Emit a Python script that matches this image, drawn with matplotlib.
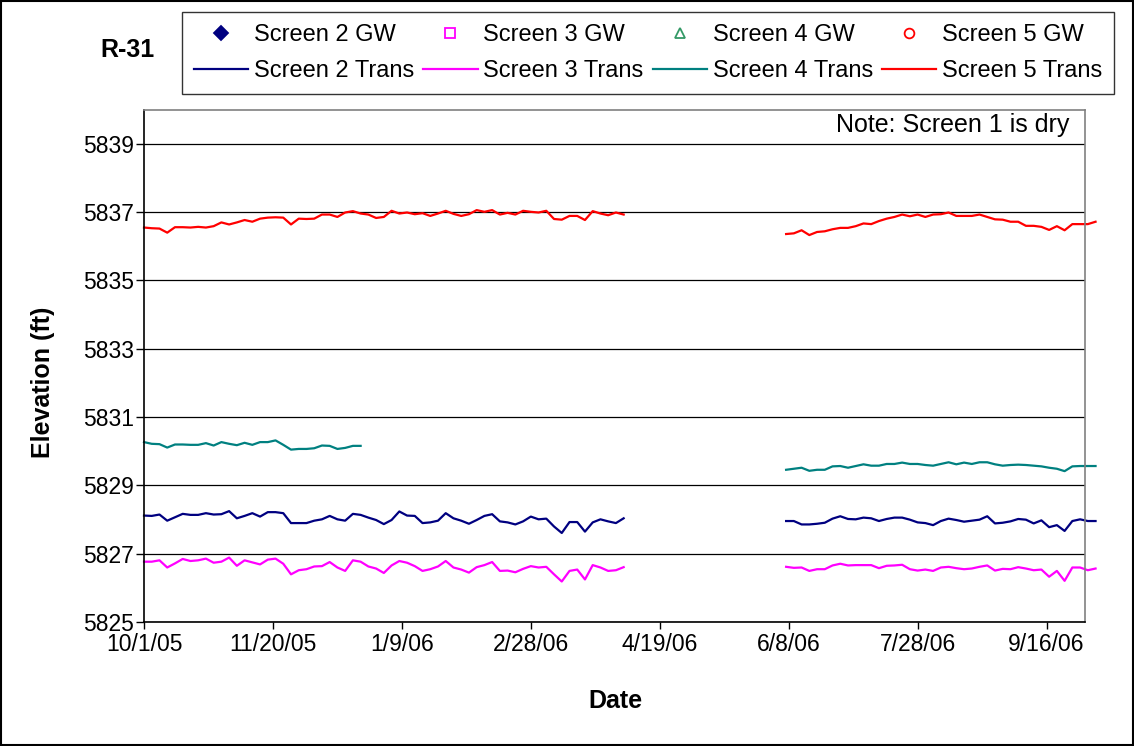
import matplotlib
matplotlib.use('Agg')
import matplotlib.pyplot as plt
from matplotlib.lines import Line2D
from matplotlib.patches import Rectangle
import datetime as dt

plt.rcParams['font.family'] = ['Liberation Sans', 'DejaVu Sans']

# transducer record, one reading every 3 days
# first block starts 10/1/05, second block starts 6/7/06
seg1_start = dt.date(2005, 10, 1)
seg2_start = dt.date(2006, 6, 7)
step_days = 3

scr2_a = [5828.12, 5828.11, 5828.15, 5827.97, 5828.07, 5828.17, 5828.14, 5828.14, 5828.19, 5828.15,
          5828.16, 5828.25, 5828.04, 5828.11, 5828.19, 5828.09, 5828.22, 5828.22, 5828.19, 5827.90,
          5827.90, 5827.90, 5827.97, 5828.01, 5828.11, 5828.01, 5827.97, 5828.17, 5828.14, 5828.06,
          5827.99, 5827.87, 5827.99, 5828.24, 5828.12, 5828.11, 5827.90, 5827.92, 5827.97, 5828.19,
          5828.04, 5827.97, 5827.88, 5827.99, 5828.11, 5828.16, 5827.95, 5827.92, 5827.86, 5827.95,
          5828.09, 5828.01, 5828.03, 5827.80, 5827.61, 5827.93, 5827.93, 5827.65, 5827.92, 5828.01,
          5827.95, 5827.90, 5828.04]
scr2_b = [5827.96, 5827.96, 5827.86, 5827.86, 5827.88, 5827.91, 5828.03, 5828.10, 5828.02, 5828.01,
          5828.06, 5828.04, 5827.96, 5828.02, 5828.06, 5828.06, 5828.00, 5827.92, 5827.90, 5827.84,
          5827.96, 5828.03, 5827.99, 5827.94, 5827.97, 5828.00, 5828.10, 5827.89, 5827.91, 5827.95,
          5828.02, 5828.00, 5827.89, 5827.98, 5827.78, 5827.84, 5827.67, 5827.96, 5828.01, 5827.96,
          5827.96]

scr3_a = [5826.77, 5826.77, 5826.81, 5826.60, 5826.72, 5826.85, 5826.79, 5826.81, 5826.86, 5826.74,
          5826.77, 5826.89, 5826.65, 5826.81, 5826.75, 5826.69, 5826.83, 5826.86, 5826.71, 5826.40,
          5826.52, 5826.55, 5826.63, 5826.64, 5826.76, 5826.60, 5826.50, 5826.81, 5826.77, 5826.63,
          5826.57, 5826.44, 5826.66, 5826.79, 5826.74, 5826.64, 5826.50, 5826.55, 5826.63, 5826.79,
          5826.60, 5826.54, 5826.45, 5826.61, 5826.67, 5826.76, 5826.50, 5826.51, 5826.46, 5826.56,
          5826.64, 5826.60, 5826.62, 5826.40, 5826.19, 5826.50, 5826.54, 5826.25, 5826.67, 5826.60,
          5826.50, 5826.52, 5826.61]
scr3_b = [5826.62, 5826.59, 5826.60, 5826.50, 5826.55, 5826.55, 5826.66, 5826.71, 5826.66, 5826.67,
          5826.67, 5826.67, 5826.58, 5826.65, 5826.66, 5826.68, 5826.55, 5826.51, 5826.54, 5826.50,
          5826.60, 5826.62, 5826.58, 5826.55, 5826.57, 5826.62, 5826.66, 5826.51, 5826.56, 5826.55,
          5826.61, 5826.57, 5826.52, 5826.54, 5826.33, 5826.50, 5826.21, 5826.60, 5826.60, 5826.52,
          5826.57]

scr4_a = [5830.27, 5830.22, 5830.21, 5830.11, 5830.20, 5830.20, 5830.19, 5830.19, 5830.24, 5830.17,
          5830.27, 5830.22, 5830.18, 5830.25, 5830.19, 5830.27, 5830.27, 5830.32, 5830.19, 5830.05,
          5830.07, 5830.07, 5830.09, 5830.17, 5830.16, 5830.07, 5830.10, 5830.16, 5830.16]
scr4_b = [5829.46, 5829.49, 5829.52, 5829.43, 5829.46, 5829.46, 5829.56, 5829.57, 5829.52, 5829.57,
          5829.62, 5829.58, 5829.58, 5829.63, 5829.63, 5829.67, 5829.63, 5829.63, 5829.60, 5829.58,
          5829.63, 5829.68, 5829.62, 5829.67, 5829.63, 5829.68, 5829.68, 5829.62, 5829.58, 5829.60,
          5829.61, 5829.60, 5829.58, 5829.56, 5829.52, 5829.49, 5829.42, 5829.56, 5829.57, 5829.57,
          5829.57]

scr5_a = [5836.55, 5836.53, 5836.52, 5836.40, 5836.56, 5836.56, 5836.55, 5836.57, 5836.55, 5836.59,
          5836.70, 5836.64, 5836.70, 5836.77, 5836.72, 5836.81, 5836.84, 5836.85, 5836.84, 5836.64,
          5836.81, 5836.80, 5836.81, 5836.93, 5836.93, 5836.86, 5836.99, 5837.03, 5836.96, 5836.93,
          5836.83, 5836.86, 5837.04, 5836.96, 5836.99, 5836.94, 5836.97, 5836.89, 5836.96, 5837.04,
          5836.95, 5836.89, 5836.94, 5837.06, 5837.01, 5837.06, 5836.93, 5836.98, 5836.93, 5837.04,
          5837.01, 5836.99, 5837.04, 5836.80, 5836.78, 5836.89, 5836.89, 5836.77, 5837.03, 5836.96,
          5836.91, 5836.99, 5836.93]
scr5_b = [5836.36, 5836.38, 5836.47, 5836.33, 5836.42, 5836.44, 5836.50, 5836.54, 5836.54, 5836.59,
          5836.67, 5836.65, 5836.74, 5836.81, 5836.86, 5836.93, 5836.88, 5836.93, 5836.86, 5836.93,
          5836.94, 5836.99, 5836.89, 5836.89, 5836.89, 5836.93, 5836.86, 5836.79, 5836.78, 5836.72,
          5836.72, 5836.60, 5836.60, 5836.57, 5836.48, 5836.59, 5836.47, 5836.65, 5836.65, 5836.65,
          5836.72]

xtick_dates = [dt.date(2005, 10, 1), dt.date(2005, 11, 20), dt.date(2006, 1, 9), dt.date(2006, 2, 28),
               dt.date(2006, 4, 19), dt.date(2006, 6, 8), dt.date(2006, 7, 28), dt.date(2006, 9, 16)]
xtick_labels = ['10/1/05', '11/20/05', '1/9/06', '2/28/06', '4/19/06', '6/8/06', '7/28/06', '9/16/06']
yticks = [5825, 5827, 5829, 5831, 5833, 5835, 5837, 5839]


def dates_for(start, n):
    return [start + dt.timedelta(days=step_days * i) for i in range(n)]


fig = plt.figure(figsize=(11.34, 7.46), dpi=100)
ax = fig.add_axes([0.127, 0.166, 0.830, 0.687])

series = [
    ('Screen 2', '#000080', 'D', True, scr2_a, scr2_b),
    ('Screen 3', '#FF00FF', 's', False, scr3_a, scr3_b),
    ('Screen 4', '#008080', '^', False, scr4_a, scr4_b),
    ('Screen 5', '#FF0000', 'o', False, scr5_a, scr5_b),
]

handles, labels = [], []
for name, col, mk, filled, seg_a, seg_b in series:
    ax.plot(dates_for(seg1_start, len(seg_a)), seg_a, color=col, lw=1.6, clip_on=False)
    ax.plot(dates_for(seg2_start, len(seg_b)), seg_b, color=col, lw=1.6, clip_on=False)
    gw_col = '#339966' if name == 'Screen 4' else col
    handles.append(Line2D([], [], ls='none', marker=mk, mfc=gw_col if filled else 'none',
                          mec=gw_col, ms=7, mew=1.3))
    labels.append(name + ' GW')
    handles.append(Line2D([], [], color=col, lw=1.6))
    labels.append(name + ' Trans')

ax.set_xlim(dt.date(2005, 10, 1), dt.date(2006, 10, 1))
ax.set_ylim(5825, 5840)
ax.set_yticks(yticks)
ax.set_xticks(xtick_dates)
ax.set_xticklabels(xtick_labels)
ax.tick_params(axis='both', labelsize=16.5, direction='out', width=1, colors='black')
ax.tick_params(axis='x', length=5, pad=3)
ax.tick_params(axis='y', length=6, pad=1.5)
ax.grid(axis='y', color='black', lw=0.9)
ax.set_axisbelow(True)
for s in ['top', 'right']:
    ax.spines[s].set_color('#808080')
    ax.spines[s].set_linewidth(1.2)
for s in ['left', 'bottom']:
    ax.spines[s].set_color('black')
    ax.spines[s].set_linewidth(1.2)

leg = fig.legend(handles, labels, ncol=4, loc='upper left', bbox_to_anchor=(182 / 1134, 1 - 12 / 746),
                 borderaxespad=0, fontsize=17, frameon=True, fancybox=False, edgecolor='black',
                 handlelength=2.3, handletextpad=0.25, columnspacing=0.38, borderpad=0.5,
                 labelspacing=0.62)
leg.get_frame().set_linewidth(1.0)

fig.text(127 / 1134, 1 - 50 / 746, 'R-31', fontsize=18, fontweight='bold', ha='center', va='center')
fig.text(1069 / 1134, 1 - 125 / 746, 'Note: Screen 1 is dry', fontsize=18, ha='right', va='center')
fig.text(615 / 1134, 1 - 701 / 746, 'Date', fontsize=18, fontweight='bold', ha='center', va='center')
fig.text(43 / 1134, 1 - 382 / 746, 'Elevation (ft)', fontsize=18, fontweight='bold',
         rotation=90, ha='center', va='center')

fig.add_artist(Rectangle((0.001, 0.001), 0.998, 0.997, transform=fig.transFigure,
                         fill=False, edgecolor='black', lw=1.5))

fig.savefig('out.png', dpi=100)
